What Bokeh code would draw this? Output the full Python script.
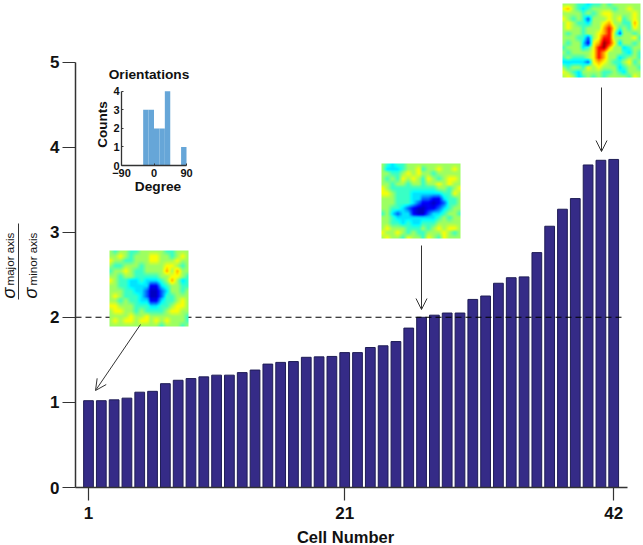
import numpy as np
from bokeh.plotting import figure
from bokeh.models import Label, Arrow, OpenHead, FixedTicker, LinearColorMapper, Range1d, LinearAxis
from bokeh.embed import file_html
from bokeh.resources import INLINE

cell_numbers = list(range(1, 43))
axis_ratio = [1.02, 1.02, 1.03, 1.05, 1.12, 1.13, 1.22, 1.26, 1.28, 1.30, 1.32, 1.32, 1.35, 1.38,
              1.45, 1.47, 1.48, 1.53, 1.535, 1.54, 1.585, 1.585, 1.645, 1.665, 1.715, 1.873, 2.0,
              2.025, 2.05, 2.05, 2.21, 2.25, 2.40, 2.465, 2.475, 2.76, 3.07, 3.27, 3.395, 3.79, 3.845, 3.855]
x_tick_labels = [1, 21, 42]
y_ticks = [0, 1, 2, 3, 4, 5]
threshold = 2

hist_left = [-30, -15, 0, 15, 30, 75]
hist_right = [-15, 0, 15, 30, 45, 90]
hist_counts = [3, 3, 2, 2, 4, 1]
hist_x_ticks = [-90, 0, 90]
hist_y_ticks = [0, 1, 2, 3, 4]

# receptive-field maps, levels 0 (dark blue) .. 9 (dark red)
rf_round = ["5455445555544555", "5565455566554565", "6554455566555655", "5445554555566545",
            "4556544555575755", "5545544444556654", "6544334333457534", "5544333311345544",
            "5554433200235545", "5654443200244555", "5545443311344565", "6655544433445665",
            "5665545444456655", "5555655655555554", "5656656656565554", "5555555555455545"]
rf_oblong = ["5434455555555555", "5333455645565565", "5544565655455555", "5454656546545665",
             "5545545545565655", "6544444444455456", "6654443333334465", "5554443322113445",
             "5554443211012445", "5544321001123455", "4532331002334554", "5543333333345455",
             "5544343344455555", "5655544454565665", "6556545445556545", "5655465546546555"]
rf_streak = ["5554434454555555", "6754345555455655", "5555454566555565", "6545425556564565",
             "5654435567554475", "5655455578645465", "5455455678525545", "5554425688555564",
             "5455316798635545", "4555346897553455", "5455556875554354", "4544456875534554",
             "3333326765445645", "5455465655534554", "6543555544543555", "5653454545555465"]
rf_levels = [0.07, 0.12, 0.22, 0.35, 0.43, 0.53, 0.62, 0.70, 0.86, 0.97]


def px(v):
    return 1 + (v - 88) / 12.81


def py(v):
    return (487 - v) / 85.1


HX = 65 / 180   # inset pixels per degree
HY = 18.55      # inset pixels per count


def hx(v):
    return (v - 121) / HX - 90


def hy(v):
    return (165 - v) / HY


def jet():
    t = np.linspace(0, 1, 256)
    r = np.clip(1.5 - np.abs(4 * t - 3), 0, 1)
    g = np.clip(1.5 - np.abs(4 * t - 2), 0, 1)
    b = np.clip(1.5 - np.abs(4 * t - 1), 0, 1)
    return ["#%02x%02x%02x" % (int(a * 255), int(c * 255), int(d * 255)) for a, c, d in zip(r, g, b)]


def smooth(rows, k=5):
    m = np.array([[rf_levels[int(c)] for c in row] for row in rows], dtype=float)
    n = m.shape[0]
    src = np.arange(n)
    dst = np.linspace(0, n - 1, n * k)
    a = np.array([np.interp(dst, src, row) for row in m])
    a = np.array([np.interp(dst, src, col) for col in a.T]).T
    return a[::-1]


FONT = "Liberation Sans"
DARK = "#333333"
INK = "#111111"

p = figure(width=643, height=545, output_backend="svg", toolbar_location=None,
           x_range=Range1d(px(0), px(643)), y_range=Range1d(py(545), py(0)),
           x_axis_type=None, y_axis_type=None,
           min_border_left=0, min_border_right=0, min_border_top=0, min_border_bottom=0)
p.outline_line_color = None
p.grid.visible = False
p.extra_x_ranges["hist_x"] = Range1d(hx(0), hx(643))
p.extra_y_ranges["hist_y"] = Range1d(hy(545), hy(0))

p.vbar(x=cell_numbers, top=axis_ratio, bottom=0, width=0.76,
       fill_color="#352B87", line_color="#1F1D55", line_width=1)
p.line(x=[px(75), px(623)], y=[threshold, threshold], line_color="black", line_width=1.1, line_dash="6 4")

mapper = LinearColorMapper(palette=jet(), low=0, high=1)
for rows, (l, r, t, b) in [(rf_round, (109, 188, 250, 326)),
                           (rf_oblong, (381, 460, 163, 238)),
                           (rf_streak, (562, 640, 3, 77))]:
    p.image(image=[smooth(rows)], x=px(l), y=py(b), dw=px(r) - px(l), dh=py(t) - py(b), color_mapper=mapper)

for (x0, y0, x1, y1) in [(140, 324, 95, 390), (421, 245, 421, 309), (601, 87, 601, 151)]:
    p.add_layout(Arrow(end=OpenHead(size=11, line_color=DARK, line_width=1),
                       x_start=px(x0), y_start=py(y0), x_end=px(x1), y_end=py(y1),
                       line_color=DARK, line_width=1))

xa = LinearAxis(fixed_location=0, ticker=FixedTicker(ticks=x_tick_labels), bounds=(px(75), px(627)),
                major_tick_out=13, major_tick_in=0, minor_tick_line_color=None, axis_line_color=DARK,
                axis_line_width=1.5, major_tick_line_color=DARK, major_tick_line_width=1.2,
                major_label_text_font=FONT, major_label_text_font_style="bold",
                major_label_text_font_size="17px", major_label_text_color=INK, major_label_standoff=6)
p.add_layout(xa, "below")
ya = LinearAxis(fixed_location=px(75), ticker=FixedTicker(ticks=y_ticks), bounds=(0, 5),
                major_tick_out=13, major_tick_in=0, minor_tick_line_color=None, axis_line_color=DARK,
                axis_line_width=1.5, major_tick_line_color=DARK, major_tick_line_width=1.2,
                major_label_text_font=FONT, major_label_text_font_style="bold",
                major_label_text_font_size="17px", major_label_text_color=INK, major_label_standoff=3)
p.add_layout(ya, "left")


def label(text, x, y, size, style="bold", angle=0.0, align="center", base="middle"):
    p.add_layout(Label(x=px(x), y=py(y), text=text, text_font=FONT, text_font_size=size, text_font_style=style,
                       text_color=INK, angle=angle, text_align=align, text_baseline=base))


label("Cell Number", 345, 536, "16.5px")
rot = np.pi / 2
label("σ", 8, 298, "18px", "italic", rot, "left", "alphabetic")
label("major axis", 9, 285, "11.6px", "normal", rot, "left", "alphabetic")
label("σ", 30, 298, "18px", "italic", rot, "left", "alphabetic")
label("minor axis", 32, 285, "11.6px", "normal", rot, "left", "alphabetic")
p.line(x=[px(18), px(18)], y=[py(223), py(299)], line_color=DARK, line_width=1)

# Inset histogram
p.quad(left=hist_left, right=hist_right, top=hist_counts, bottom=0, fill_color="#66A6D8", line_color=None,
       x_range_name="hist_x", y_range_name="hist_y")
hxa = LinearAxis(x_range_name="hist_x", y_range_name="hist_y", fixed_location=0,
                 ticker=FixedTicker(ticks=hist_x_ticks), bounds=(-90, 90))
hya = LinearAxis(x_range_name="hist_x", y_range_name="hist_y", fixed_location=-90,
                 ticker=FixedTicker(ticks=hist_y_ticks), bounds=(0, 4))
for ax in (hxa, hya):
    ax.minor_tick_line_color = None
    ax.major_tick_in = 2
    ax.major_tick_out = 0
    ax.axis_line_color = DARK
    ax.axis_line_width = 1.3
    ax.major_tick_line_color = DARK
    ax.major_label_text_font = FONT
    ax.major_label_text_font_style = "bold"
    ax.major_label_text_font_size = "11px"
    ax.major_label_text_color = INK
hxa.major_label_standoff = 3
hya.major_label_standoff = 2
p.add_layout(hxa, "below")
p.add_layout(hya, "left")
label("Orientations", 148.5, 74, "13.7px")
label("Degree", 157.5, 186, "13.7px")
label("Counts", 102, 124, "13.5px", "bold", rot)

open("out.html", "w").write(file_html(p, INLINE))
